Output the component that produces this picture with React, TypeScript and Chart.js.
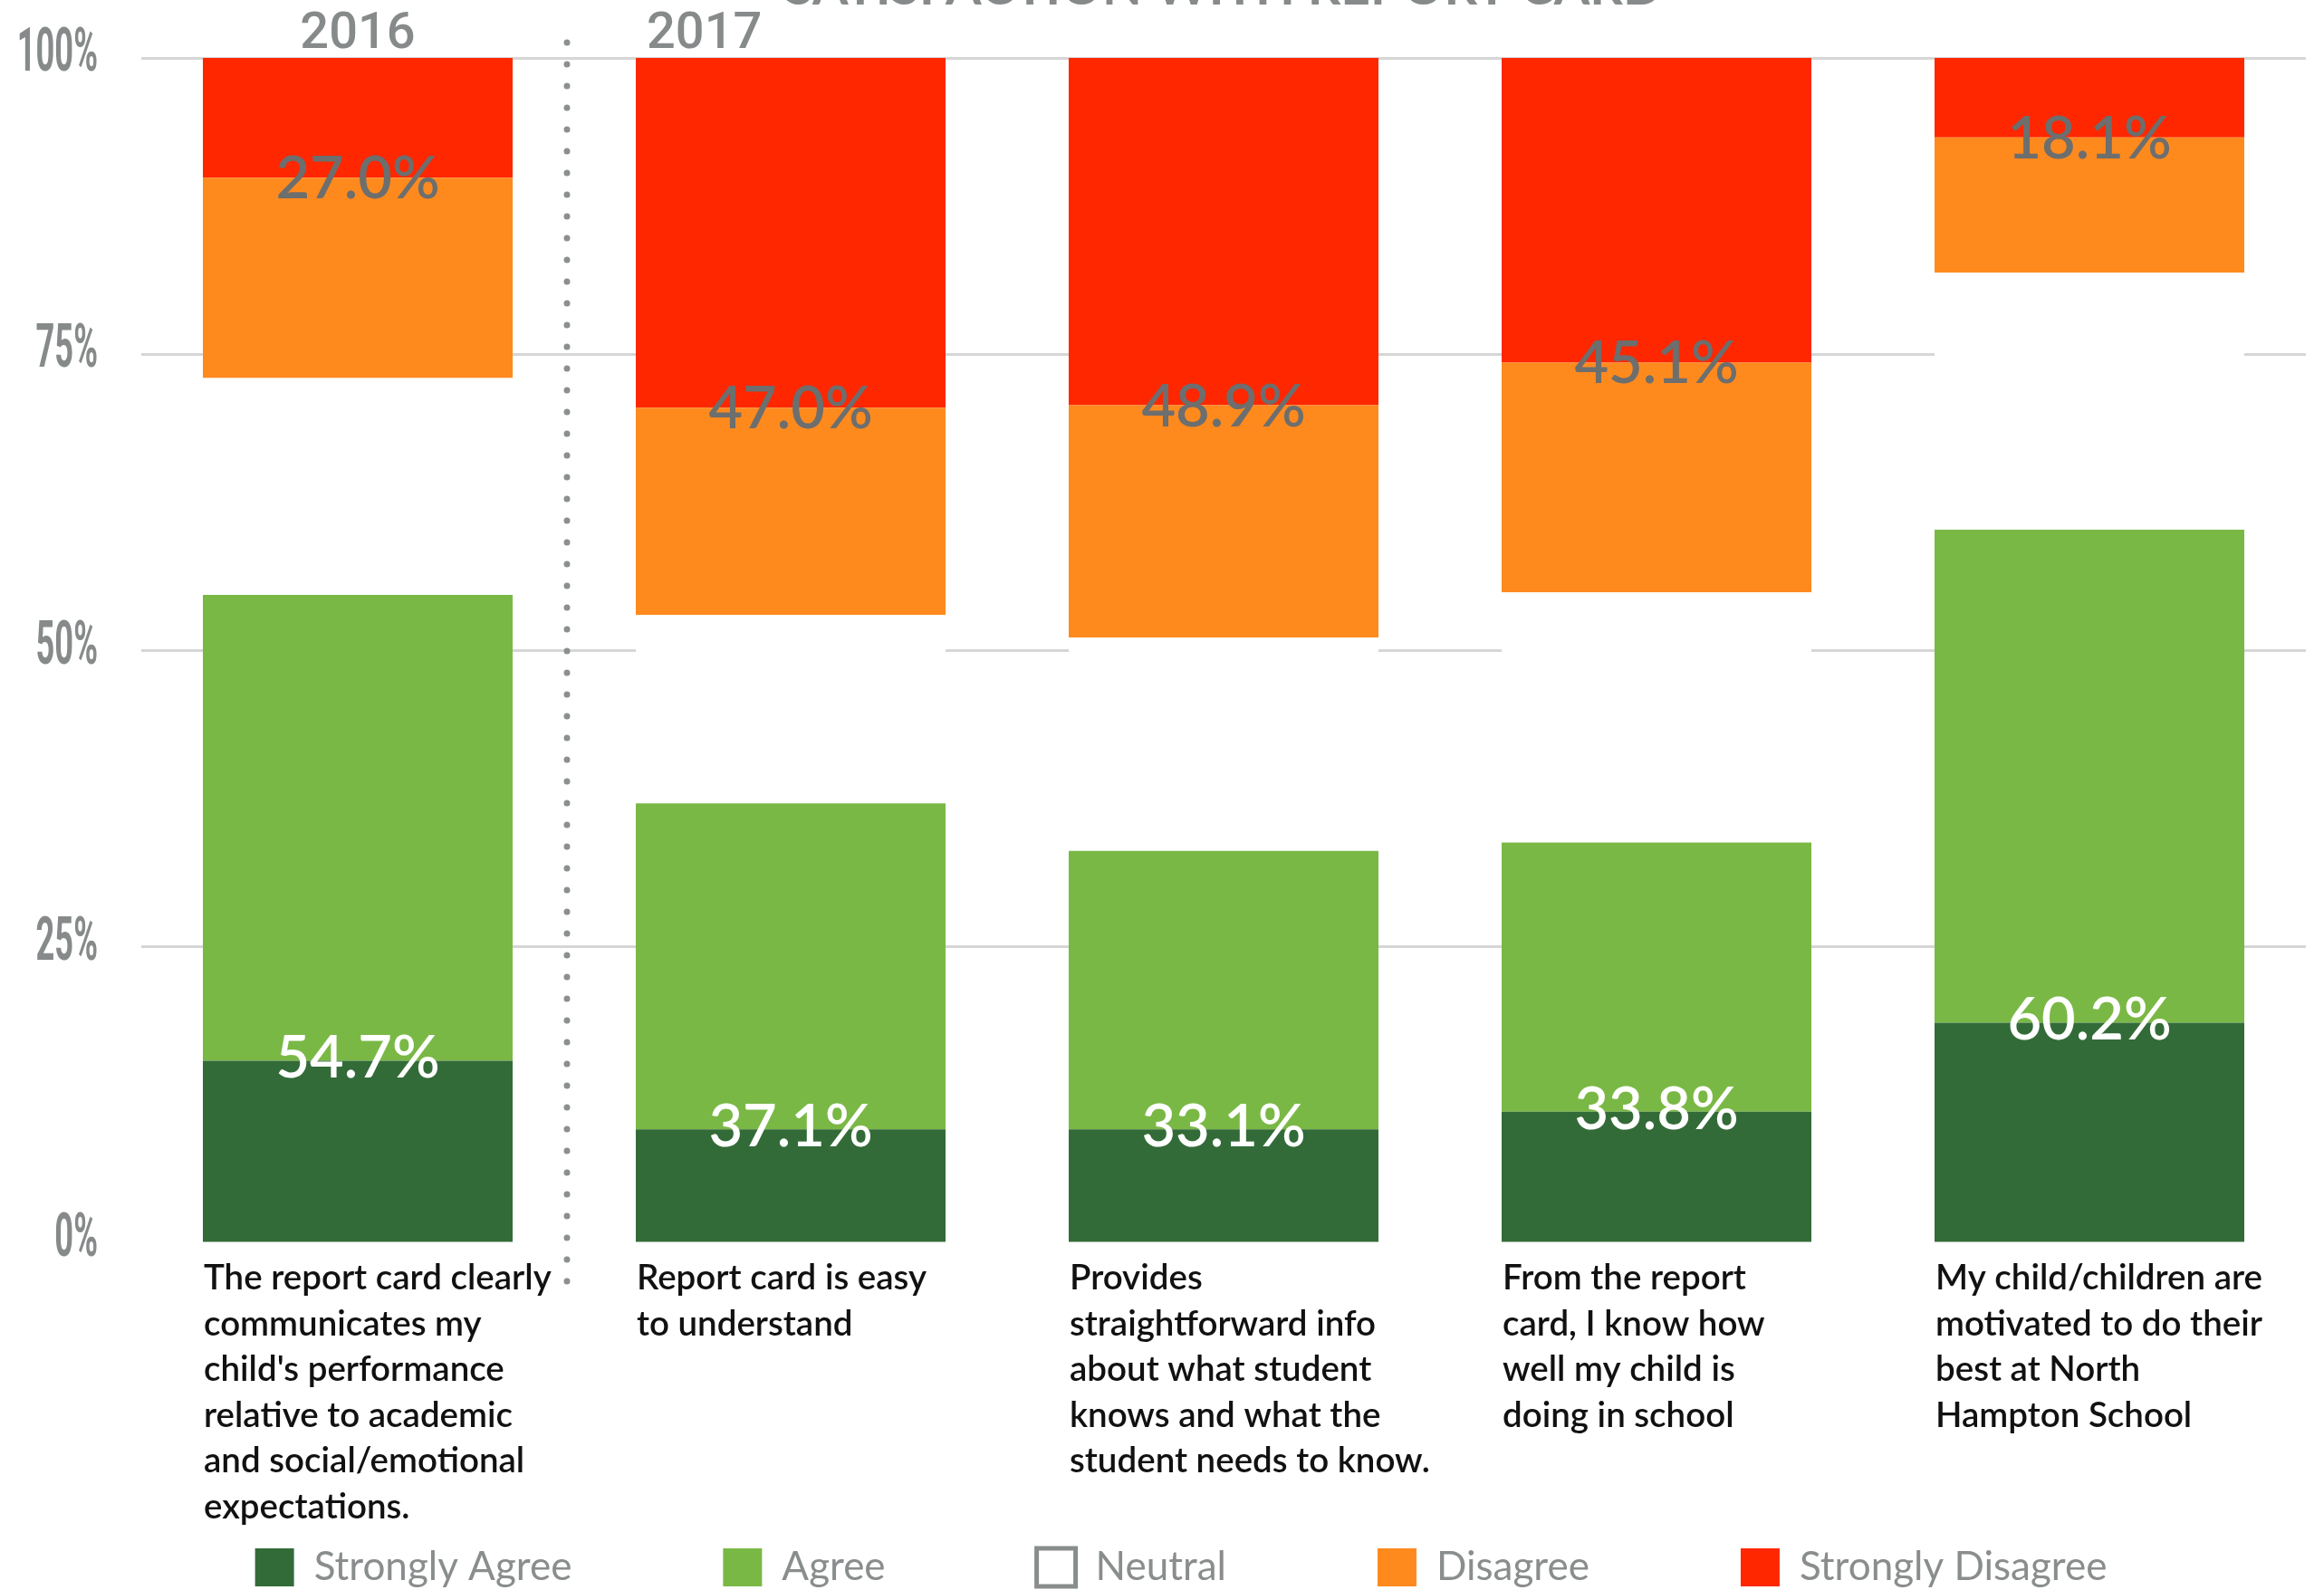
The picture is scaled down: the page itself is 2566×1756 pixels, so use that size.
import React, { useEffect, useRef } from "react";
import { Chart, registerables } from "chart.js";

Chart.register(...registerables);

// ---- data ----
const categories: string[][] = [
  ["The report card clearly", "communicates my", "child's performance", "relative to academic", "and social/emotional", "expectations."],
  ["Report card is easy", "to understand"],
  ["Provides", "straightforward info", "about what student", "knows and what the", "student needs to know."],
  ["From the report", "card, I know how", "well my child is", "doing in school"],
  ["My child/children are", "motivated to do their", "best at North", "Hampton School"],
];
const seriesNames = ["Strongly Agree", "Agree", "Neutral", "Disagree", "Strongly Disagree"];
const stronglyAgree = [15.4, 9.6, 9.6, 11.1, 18.6];
const agree = [39.3, 27.5, 23.5, 22.7, 41.6];
const neutral = [18.3, 15.9, 18.0, 21.1, 21.7];
const disagree = [16.9, 17.5, 19.6, 19.4, 11.4];
const stronglyDisagree = [10.1, 29.5, 29.3, 25.7, 6.7];
const yTickValues = [0, 25, 50, 75, 100];
const yearLabels = ["2016", "2017"];
const titleText = "SATISFACTION WITH REPORT CARD";

const seriesColors = ["#336b38", "#7ab845", "#ffffff", "#fe8a1e", "#fe2700"];

const W = 2566;
const H = 1763;
const LEGEND_PAD = 167;
const LEGEND_FONT = 44;

const overlayPlugin = {
  id: "overlay",
  afterDatasetsDraw(chart: any) {
    const { ctx, chartArea, scales } = chart;
    const ys = scales.y;
    const bars = chart.getDatasetMeta(0).data;
    ctx.save();

    // y tick labels (condensed)
    ctx.fillStyle = "#878a8a";
    ctx.font = "bold 66px Roboto";
    ctx.textAlign = "right";
    ctx.textBaseline = "alphabetic";
    for (const t of ys.ticks) {
      const py = ys.getPixelForValue(t.value);
      ctx.save();
      ctx.translate(108, py + 14);
      ctx.scale(0.55, 1);
      ctx.fillText(`${t.value}%`, 0, 0);
      ctx.restore();
    }

    // title (cut off at top)
    ctx.font = "bold 57px Lato";
    ctx.textAlign = "center";
    ctx.fillStyle = "#878a8a";
    ctx.fillText(titleText, (chartArea.left + chartArea.right) / 2, 5);

    // year labels
    ctx.font = "500 56px Roboto";
    ctx.fillStyle = "#878a8a";
    const b0 = bars[0];
    const b1 = bars[1];
    ctx.textAlign = "center";
    ctx.fillText(yearLabels[0], b0.x, 53);
    ctx.textAlign = "left";
    ctx.fillText(yearLabels[1], b1.x - b1.width / 2 + 12, 53);

    // dotted separator
    const xd = (b0.x + b0.width / 2 + (b1.x - b1.width / 2)) / 2 - 8;
    ctx.strokeStyle = "#8c8f8f";
    ctx.lineWidth = 7;
    ctx.lineCap = "round";
    ctx.setLineDash([0, 24]);
    ctx.beginPath();
    ctx.moveTo(xd, 47);
    ctx.lineTo(xd, 1417);
    ctx.stroke();
    ctx.setLineDash([]);

    // data labels
    ctx.font = "600 65px Lato";
    ctx.textAlign = "center";
    ctx.textBaseline = "middle";
    bars.forEach((bar: any, i: number) => {
      const agreeTotal = stronglyAgree[i] + agree[i];
      const disTotal = disagree[i] + stronglyDisagree[i];
      ctx.fillStyle = "#ffffff";
      ctx.fillText(`${agreeTotal.toFixed(1)}%`, bar.x, ys.getPixelForValue(stronglyAgree[i]) - 2);
      ctx.fillStyle = "#6d6e6e";
      ctx.fillText(`${disTotal.toFixed(1)}%`, bar.x, ys.getPixelForValue(100 - stronglyDisagree[i]) + 2);
    });

    // category labels
    ctx.font = "600 38.5px Lato";
    ctx.fillStyle = "#111111";
    ctx.textAlign = "left";
    ctx.textBaseline = "alphabetic";
    bars.forEach((bar: any, i: number) => {
      const left = bar.x - bar.width / 2 + 1;
      const lines = chart.data.labels[i] as string[];
      lines.forEach((line: string, k: number) => {
        ctx.fillText(line, left, 1424 + k * 50.5);
      });
    });

    ctx.restore();
  },
};

export default function App() {
  const ref = useRef<HTMLCanvasElement | null>(null);

  useEffect(() => {
    if (!ref.current) return;
    const seriesValues = [stronglyAgree, agree, neutral, disagree, stronglyDisagree];
    const chart = new Chart(ref.current, {
      type: "bar",
      data: {
        labels: categories as any,
        datasets: seriesNames.map((name, i) => ({
          label: name,
          data: seriesValues[i],
          backgroundColor: seriesColors[i],
          borderWidth: 0,
          barPercentage: 0.7155,
          categoryPercentage: 1,
        })),
      },
      options: {
        responsive: false,
        animation: false,
        devicePixelRatio: 1,
        events: [],
        layout: { padding: { top: 64, left: 62, right: 20, bottom: 0 } },
        scales: {
          x: {
            stacked: true,
            grid: { display: false },
            border: { display: false },
            ticks: { display: false },
            afterFit: (scale: any) => {
              scale.height = H - (LEGEND_FONT + LEGEND_PAD + 10) - 1373;
            },
          },
          y: {
            stacked: true,
            min: 0,
            max: 100,
            ticks: { display: false, stepSize: 25 },
            afterBuildTicks: (scale: any) => {
              scale.ticks = yTickValues.map((v) => ({ value: v }));
            },
            border: { display: false },
            grid: {
              drawTicks: false,
              lineWidth: 3,
              color: (c: any) => (c.tick && c.tick.value === 0 ? "rgba(0,0,0,0)" : "#d6d6d6"),
            },
            afterFit: (scale: any) => {
              scale.width = 94;
            },
          },
        },
        plugins: {
          tooltip: { enabled: false },
          title: { display: false },
          legend: {
            position: "bottom",
            labels: {
              boxWidth: 43,
              boxHeight: 42,
              padding: LEGEND_PAD,
              color: "#8a8d8d",
              font: { family: "Lato", size: LEGEND_FONT },
              generateLabels: (c: any) =>
                c.data.datasets.map((ds: any, i: number) => ({
                  text: ds.label,
                  fillStyle: ds.backgroundColor,
                  strokeStyle: i === 2 ? "#8a8d8d" : ds.backgroundColor,
                  lineWidth: i === 2 ? 5 : 0,
                  fontColor: "#8a8d8d",
                  hidden: false,
                  datasetIndex: i,
                })),
            },
          },
        },
      },
      plugins: [overlayPlugin],
    });
    return () => chart.destroy();
  }, []);

  return (
    <div
      style={{
        position: "absolute",
        left: 0,
        top: 0,
        width: W,
        height: 1756,
        overflow: "hidden",
        background: "#ffffff",
      }}
    >
      <canvas ref={ref} width={W} height={H} style={{ width: W, height: H, display: "block" }} />
    </div>
  );
}
